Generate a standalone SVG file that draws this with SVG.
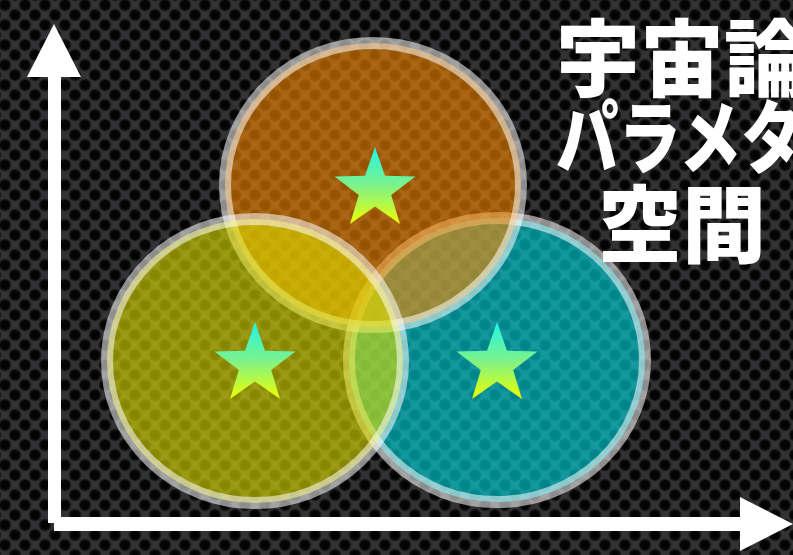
<svg xmlns="http://www.w3.org/2000/svg" width="793" height="555" viewBox="0 0 793 555">
  <defs>
    <radialGradient id="hole" cx="0.5" cy="0.5" r="0.5">
      <stop offset="0" stop-color="#000"/>
      <stop offset="0.6" stop-color="#050505"/>
      <stop offset="1" stop-color="#000" stop-opacity="0"/>
    </radialGradient>
    <pattern id="perf" x="0" y="0" width="20" height="20" patternUnits="userSpaceOnUse">
      <rect width="20" height="20" fill="#333336"/>
      <circle cx="5" cy="5" r="7" fill="url(#hole)"/>
      <circle cx="15" cy="15" r="7" fill="url(#hole)"/>
      <circle cx="15" cy="-5" r="7" fill="url(#hole)"/>
      <circle cx="-5" cy="15" r="7" fill="url(#hole)"/>
      <circle cx="25" cy="5" r="7" fill="url(#hole)"/>
      <circle cx="5" cy="25" r="7" fill="url(#hole)"/>
    </pattern>
    <linearGradient id="starGrad" x1="0" y1="0" x2="0" y2="1">
      <stop offset="0" stop-color="#1ff5e6"/>
      <stop offset="0.5" stop-color="#7df28a"/>
      <stop offset="1" stop-color="#eeff00"/>
    </linearGradient>
    <path id="star" d="M0,-42.6 L10,-13.8 L40.5,-13.2 L16.2,5.3 L25,34.5 L0,17 L-25,34.5 L-16.2,5.3 L-40.5,-13.2 L-10,-13.8 Z"/>
    <style>
      .ring { stroke: #ffffff; stroke-opacity: 0.55; stroke-width: 12; }
      .star { fill: url(#starGrad); }
      .axis { fill: #ffffff; }
      .title { font-family: "Noto Sans CJK JP", "Noto Sans", sans-serif; font-weight: 900; font-size: 84px; fill: #ffffff; }
    </style>
  </defs>

  <rect id="background" width="793" height="555" fill="url(#perf)"/>

  <g id="region-cyan">
    <ellipse class="ring" cx="497" cy="360" rx="148" ry="142" fill="#00dce4" fill-opacity="0.6"/>
  </g>
  <g id="region-orange">
    <ellipse class="ring" cx="373" cy="185" rx="148" ry="142" fill="#f88800" fill-opacity="0.6"/>
  </g>
  <g id="region-yellow">
    <ellipse class="ring" cx="255" cy="361" rx="148" ry="142" fill="#e0e000" fill-opacity="0.6"/>
  </g>

  <g id="star-top"><use href="#star" class="star" x="375" y="189.6"/></g>
  <g id="star-left"><use href="#star" class="star" x="255" y="364.6"/></g>
  <g id="star-right"><use href="#star" class="star" x="497" y="364.6"/></g>

  <g id="connectors">
    <g id="axis-y" class="axis">
      <rect x="48" y="70" width="13" height="453"/>
      <polygon points="54,24 27,77 81,77"/>
    </g>
    <g id="axis-x" class="axis">
      <rect x="54" y="517" width="690" height="14"/>
      <polygon points="740,497 740,551 793,524"/>
    </g>
  </g>

  <g id="title">
    <text class="title" x="556" y="90">宇宙論</text>
    <text class="title" transform="translate(556,167) scale(0.78,1)" x="0" y="0" style="font-size:80px">パラメタ</text>
    <text class="title" x="598" y="256" textLength="168" lengthAdjust="spacing">空間</text>
  </g>
</svg>
